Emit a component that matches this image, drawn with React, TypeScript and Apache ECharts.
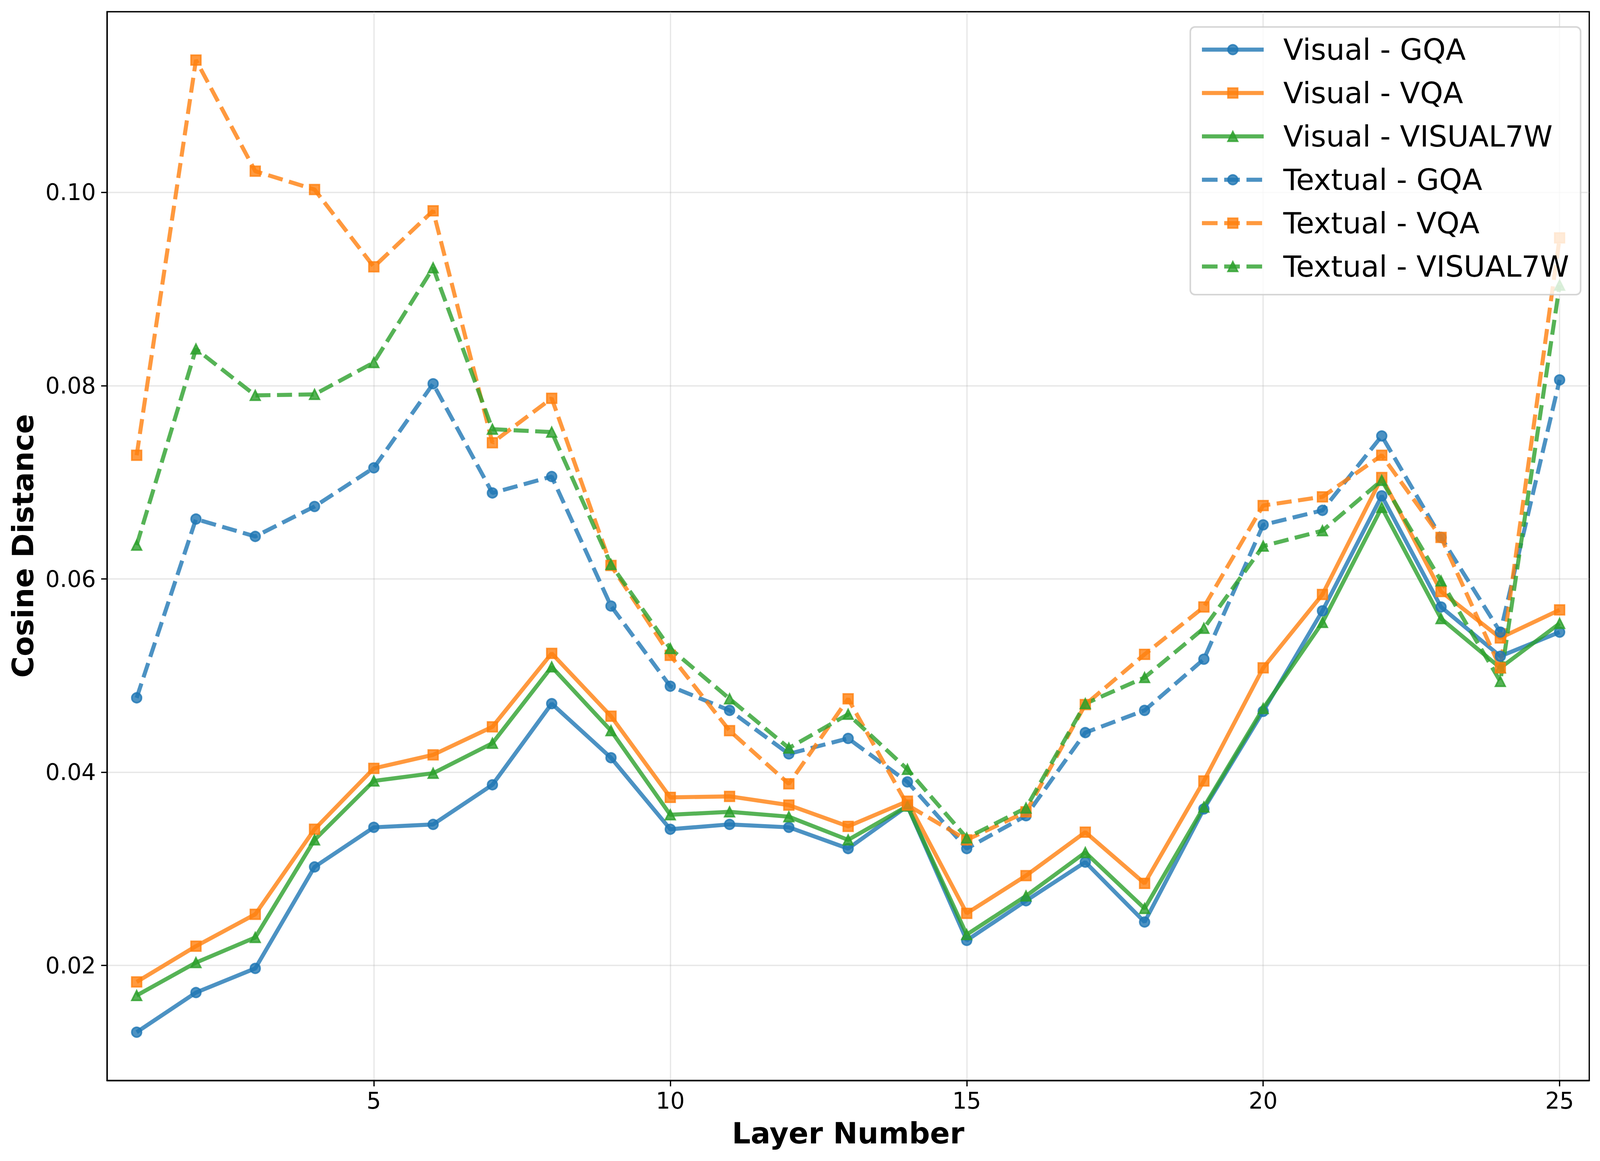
import React, { useEffect, useRef, useState } from 'react';
import * as echarts from 'echarts';

const layers = [1, 2, 3, 4, 5, 6, 7, 8, 9, 10, 11, 12, 13, 14, 15, 16, 17, 18, 19, 20, 21, 22, 23, 24, 25];

const visualGQA = [0.0131, 0.0172, 0.0197, 0.0302, 0.0343, 0.0346, 0.0387, 0.0471, 0.0415, 0.0341, 0.0346, 0.0343, 0.0321, 0.0365, 0.0226, 0.0267, 0.0307, 0.0245, 0.0362, 0.0463, 0.0567, 0.0686, 0.0571, 0.0520, 0.0545];
const visualVQA = [0.0183, 0.0220, 0.0253, 0.0341, 0.0404, 0.0418, 0.0447, 0.0523, 0.0458, 0.0374, 0.0375, 0.0366, 0.0344, 0.0370, 0.0254, 0.0293, 0.0338, 0.0285, 0.0391, 0.0508, 0.0584, 0.0705, 0.0587, 0.0539, 0.0568];
const visualV7W = [0.0169, 0.0203, 0.0229, 0.0330, 0.0391, 0.0399, 0.0430, 0.0509, 0.0443, 0.0356, 0.0359, 0.0354, 0.0330, 0.0365, 0.0232, 0.0272, 0.0317, 0.0259, 0.0364, 0.0466, 0.0555, 0.0674, 0.0559, 0.0508, 0.0554];
const textualGQA = [0.0477, 0.0662, 0.0644, 0.0675, 0.0715, 0.0802, 0.0689, 0.0706, 0.0572, 0.0489, 0.0464, 0.0419, 0.0435, 0.0390, 0.0321, 0.0355, 0.0441, 0.0464, 0.0517, 0.0656, 0.0671, 0.0748, 0.0643, 0.0545, 0.0806];
const textualVQA = [0.0728, 0.1137, 0.1022, 0.1003, 0.0923, 0.0981, 0.0741, 0.0787, 0.0614, 0.0521, 0.0443, 0.0388, 0.0476, 0.0366, 0.0330, 0.0359, 0.0470, 0.0522, 0.0571, 0.0676, 0.0685, 0.0728, 0.0643, 0.0508, 0.0953];
const textualV7W = [0.0635, 0.0838, 0.0790, 0.0791, 0.0824, 0.0922, 0.0755, 0.0752, 0.0615, 0.0528, 0.0476, 0.0425, 0.0460, 0.0403, 0.0332, 0.0363, 0.0471, 0.0498, 0.0549, 0.0634, 0.0650, 0.0702, 0.0598, 0.0494, 0.0904];

const seriesNames = ['Visual - GQA', 'Visual - VQA', 'Visual - VISUAL7W', 'Textual - GQA', 'Textual - VQA', 'Textual - VISUAL7W'];
const xTicks = [5, 10, 15, 20, 25];
const yTicks = [0.02, 0.04, 0.06, 0.08, 0.1];
const xLabel = 'Layer Number';
const yLabel = 'Cosine Distance';

const FONT = 'DejaVu Sans';
const REF_W = 4171;
const REF_H = 2971;

export default function App() {
  const ref = useRef<HTMLDivElement>(null);
  const [W] = useState(() => Math.min(REF_W, window.innerWidth || REF_W));

  useEffect(() => {
    document.body.style.margin = '0';
    const chart = echarts.init(ref.current!, null, { renderer: 'svg' });
    const sx = W / REF_W;

    const rgb = {
      blue: [31, 119, 180],
      orange: [255, 127, 14],
      green: [44, 160, 44],
    };
    const rgba = (c: number[], a: number) => `rgba(${c[0]},${c[1]},${c[2]},${a})`;

    const LW = 10.4;
    const DASH = [38.5, 16.7];

    const defs = [
      { name: seriesNames[0], values: visualGQA, c: rgb.blue, symbol: 'circle', size: 25, dashed: false },
      { name: seriesNames[1], values: visualVQA, c: rgb.orange, symbol: 'rect', size: 25, dashed: false },
      { name: seriesNames[2], values: visualV7W, c: rgb.green, symbol: 'triangle', size: 25, dashed: false },
      { name: seriesNames[3], values: textualGQA, c: rgb.blue, symbol: 'circle', size: 25, dashed: true },
      { name: seriesNames[4], values: textualVQA, c: rgb.orange, symbol: 'rect', size: 25, dashed: true },
      { name: seriesNames[5], values: textualV7W, c: rgb.green, symbol: 'triangle', size: 25, dashed: true },
    ];

    const series = defs.map((d) => ({
      name: d.name,
      type: 'line',
      data: layers.map((x, i) => [x, d.values[i]]),
      symbol: d.symbol,
      symbolSize: d.size,
      showSymbol: true,
      showAllSymbol: true,
      lineStyle: {
        color: rgba(d.c, 0.8),
        width: LW,
        type: d.dashed ? DASH : 'solid',
        cap: 'butt',
      },
      itemStyle: {
        color: rgba(d.c, 0.8),
        borderColor: rgba(d.c, 0.8),
        borderWidth: 4,
      },
      emphasis: { disabled: true },
      silent: true,
    }));

    const legendData = defs.map((d) => ({
      name: d.name,
      lineStyle: {
        color: rgba(d.c, 0.8),
        width: LW,
        type: d.dashed ? [40, 17] : 'solid',
        cap: 'butt',
      },
      itemStyle: {
        color: rgba(d.c, 0.8),
        borderColor: rgba(d.c, 0.8),
        borderWidth: 4,
      },
    }));

    const option: any = {
      animation: false,
      backgroundColor: '#ffffff',
      grid: {
        left: 279 * sx,
        top: 30,
        width: 3864 * sx,
        height: 2735,
        show: true,
        borderColor: '#000000',
        borderWidth: 3.3,
        backgroundColor: 'transparent',
      },
      xAxis: {
        type: 'value',
        min: 0.5,
        max: 25.5,
        axisLine: { show: true, onZero: false, lineStyle: { color: '#000', width: 3.3 } },
        axisTick: { show: true, length: 15, customValues: xTicks, lineStyle: { color: '#000', width: 3.3 } },
        axisLabel: {
          show: true,
          customValues: xTicks,
          margin: 23,
          fontSize: 58,
          fontFamily: FONT,
          color: '#000',
          formatter: (v: number) => String(v),
        },
        splitLine: { show: true, lineStyle: { color: 'rgba(176,176,176,0.3)', width: 3.3 } },
      },
      yAxis: {
        type: 'value',
        min: 0.0081,
        max: 0.1187,
        axisLine: { show: true, onZero: false, lineStyle: { color: '#000', width: 3.3 } },
        axisTick: { show: true, length: 15, customValues: yTicks, lineStyle: { color: '#000', width: 3.3 } },
        axisLabel: {
          show: true,
          customValues: yTicks,
          margin: 29 * sx,
          fontSize: 58,
          fontFamily: FONT,
          color: '#000',
          formatter: (v: number) => v.toFixed(2),
        },
        splitLine: { show: true, lineStyle: { color: 'rgba(176,176,176,0.3)', width: 3.3 } },
      },
      legend: {
        data: legendData,
        orient: 'vertical',
        left: 3103 * sx,
        top: 69,
        itemWidth: 161 * sx,
        itemHeight: 31,
        itemGap: 31,
        padding: [18, 30 * sx, 32, 25 * sx],
        backgroundColor: 'rgba(255,255,255,0.8)',
        borderColor: 'rgba(204,204,204,0.8)',
        borderWidth: 4,
        borderRadius: 12,
        selectedMode: false,
        lineStyle: { width: LW },
        textStyle: {
          fontSize: 75,
          fontFamily: FONT,
          color: '#000',
          lineHeight: 80,
          padding: [0, 0, 0, 46 * sx],
        },
      },
      graphic: [
        {
          type: 'text',
          x: 2211 * sx,
          y: 2900,
          style: {
            text: xLabel,
            fontSize: 75,
            fontWeight: 'bold',
            fontFamily: FONT,
            fill: '#000',
            align: 'center',
            verticalAlign: 'middle',
          },
        },
        {
          type: 'text',
          x: 60 * sx,
          y: 1397,
          rotation: Math.PI / 2,
          style: {
            text: yLabel,
            fontSize: 75,
            fontWeight: 'bold',
            fontFamily: FONT,
            fill: '#000',
            align: 'center',
            verticalAlign: 'middle',
          },
        },
      ],
      series,
    };

    chart.setOption(option);
    return () => chart.dispose();
  }, [W]);

  return <div ref={ref} style={{ width: W, height: REF_H }} />;
}
